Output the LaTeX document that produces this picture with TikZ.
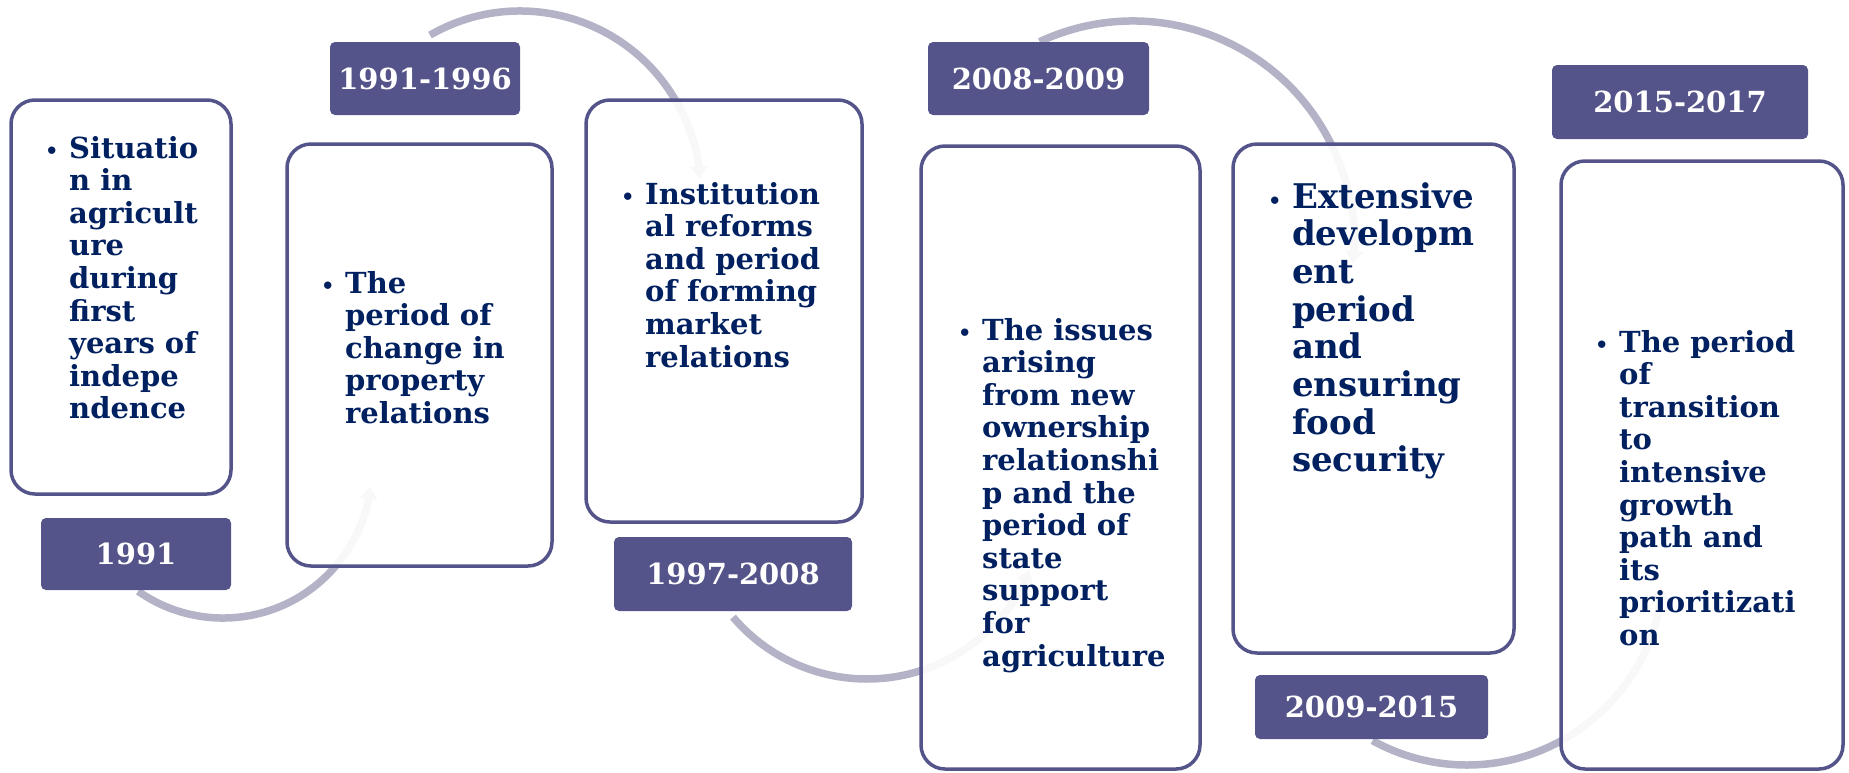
\documentclass[tikz,border=0pt]{standalone}
\usepackage{fontspec}
\setmainfont{DejaVu Serif}
\usepackage{tikz}
\usetikzlibrary{arrows.meta}

\definecolor{framecol}{HTML}{54548A}
\definecolor{textcol}{HTML}{002060}
\definecolor{flowcol}{HTML}{B3B2C6}

\tikzstyle{periodbox} = [draw=framecol,line width=3.5pt,rounded corners=24pt,fill=white,fill opacity=0.91,inner sep=0pt]
\tikzstyle{yearbox} = [fill=framecol,rounded corners=5pt,text=white,inner sep=0pt,font=\bfseries\fontsize{29}{32}\selectfont]
\tikzstyle{period} = [anchor=base west,inner sep=0pt,text=textcol,font=\bfseries\fontsize{29}{32.6}\selectfont]
\tikzstyle{flow} = [flowcol,line width=7.5pt,-{Triangle[width=17pt,length=12pt]}]

% small bullet, then the lines of one period
\newcommand{\periodlines}[1]{\makebox[22pt][l]{\hspace{-2pt}{\fontsize{21}{21}\selectfont\textbullet}}\begin{tabular}[t]{@{}l@{}}#1\end{tabular}}

\begin{document}
\begin{tikzpicture}[x=1pt,y=-1pt]
	\useasboundingbox (0,0) rectangle (1849,772);

	%Arcs
	\coordinate (c1) at (223,470);
	\coordinate (c2) at (520,191);
	\coordinate (c3) at (867,503);
	\coordinate (c4) at (1133,242);
	\coordinate (c5) at (1467,570);
	\draw[flow] (c1) ++(125:148) arc[start angle=125,end angle=6.6,radius=148];
	\draw[flow] (c2) ++(-120:180) arc[start angle=-120,end angle=-4,radius=180];
	\draw[flow] (c3) ++(139.6:176) arc[start angle=139.6,end angle=22.6,radius=176];
	\draw[flow] (c4) ++(-115:221) arc[start angle=-115,end angle=5.5,radius=221];
	\draw[flow] (c5) ++(119:195) arc[start angle=119,end angle=5,radius=195];

	%Boxes
	\node[periodbox,minimum width=220pt,minimum height=394pt] (box1) at (121,297) {};
	\node[periodbox,minimum width=265pt,minimum height=422pt] (box2) at (419.5,355) {};
	\node[periodbox,minimum width=276pt,minimum height=422pt] (box3) at (724,311) {};
	\node[periodbox,minimum width=279pt,minimum height=623pt] (box4) at (1060.5,457.5) {};
	\node[periodbox,minimum width=281pt,minimum height=509pt] (box5) at (1373.5,398.5) {};
	\node[periodbox,minimum width=282pt,minimum height=608pt] (box6) at (1702,465) {};

	%Years
	\node[yearbox,minimum width=190pt,minimum height=72pt] (year1) at (136,554) {1991};
	\node[yearbox,minimum width=190pt,minimum height=73pt] (year2) at (425,78.5) {1991-1996};
	\node[yearbox,minimum width=238pt,minimum height=74pt] (year3) at (733,574) {1997-2008};
	\node[yearbox,minimum width=221pt,minimum height=73pt] (year4) at (1038.5,78.5) {2008-2009};
	\node[yearbox,minimum width=233pt,minimum height=64pt] (year5) at (1371.5,707) {2009-2015};
	\node[yearbox,minimum width=256pt,minimum height=74pt] (year6) at (1680,102) {2015-2017};

	%Texts
	\node[period] (text1) at (47,158) {\periodlines{Situatio\\n in\\agricult\\ure\\during\\first\\years of\\indepe\\ndence}};
	\node[period] (text2) at (323,293) {\periodlines{The\\period of\\change in\\property\\relations}};
	\node[period] (text3) at (623,204) {\periodlines{Institution\\al reforms\\and period\\of forming\\market\\relations}};
	\node[period] (text4) at (960,340) {\periodlines{The issues\\arising\\from new\\ownership\\relationshi\\p and the\\period of\\state\\support\\for\\agriculture}};
	\node[period,font=\bfseries\fontsize{34}{37.7}\selectfont] (text5) at (1270,208) {\periodlines{Extensive\\developm\\ent\\period\\and\\ensuring\\food\\security}};
	\node[period] (text6) at (1597,352) {\periodlines{The period\\of\\transition\\to\\intensive\\growth\\path and\\its\\prioritizati\\on}};
\end{tikzpicture}
\end{document}
